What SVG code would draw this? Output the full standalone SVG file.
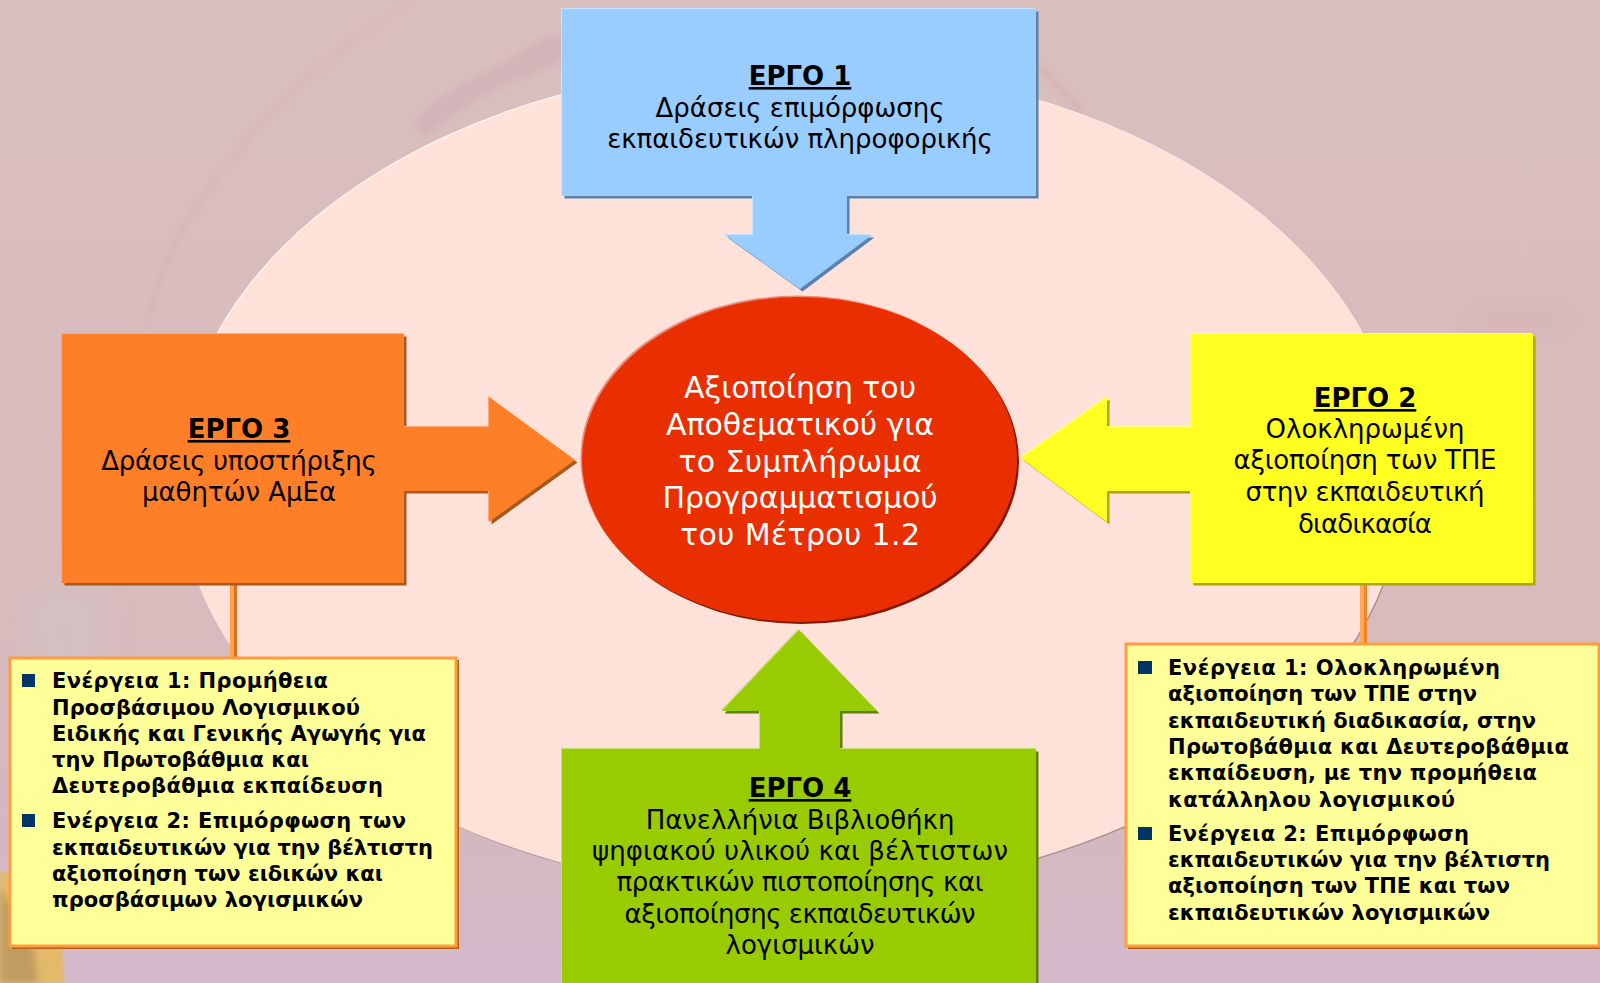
<svg xmlns="http://www.w3.org/2000/svg" width="1600" height="983" viewBox="0 0 1600 983">
<style>
text{font-family:"DejaVu Sans","Noto Sans",sans-serif;fill:#000}
.b{font-size:26px;text-anchor:middle}
.h{font-size:26px;font-weight:700;text-anchor:middle;text-decoration:underline}
.c{font-size:30px;text-anchor:middle;fill:#fff}
.s{font-size:21px;font-weight:700}
.bullet{fill:#003366}
.callout{fill:#ffff99;stroke:#ff9c40;stroke-width:3}
.callshadow{fill:#b0621c}
</style>
<defs>
<linearGradient id="bg" x1="0" y1="0" x2="0" y2="1"><stop offset="0" stop-color="#dabfbf"/><stop offset="0.6" stop-color="#d8bbbc"/><stop offset="0.85" stop-color="#d4b8c0"/><stop offset="1" stop-color="#d5b8cb"/></linearGradient>
<filter id="blur" x="-50%" y="-50%" width="200%" height="200%"><feGaussianBlur stdDeviation="14"/></filter>
<filter id="blur2" x="-30%" y="-30%" width="160%" height="160%"><feGaussianBlur stdDeviation="3"/></filter>
<filter id="blur3" x="-30%" y="-30%" width="160%" height="160%"><feGaussianBlur stdDeviation="1.500"/></filter>
<path id="sBlue" d="M562 9H1036V196H847V235H872L800 289L725 235H753V196H562Z"/>
<path id="sOrange" d="M62 334H404V427H489V397L575 460L489 522V491H404V583H62Z"/>
<path id="sYellow" d="M1191 334H1533V583H1191V491H1107V522L1021 458L1107 397V427H1191Z"/>
<path id="sGreen" d="M562 749H760V711H722L799 630L877 711H840V749H1036V990H562Z"/>
</defs>
<g id="background">
<rect width="1600" height="983" fill="url(#bg)"/>
<rect x="30" y="590" width="70" height="240" fill="#d0c4c8" filter="url(#blur)" opacity="0.5"/>
<path d="M413 0C330 50 240 130 180 233C165 265 150 300 145 340" fill="none" stroke="#d3adb2" stroke-width="6" filter="url(#blur2)" opacity="0.4"/>
<path d="M415 125C425 100 455 90 480 75C510 60 535 40 562 33L562 62C520 80 460 100 425 140Z" fill="#cba8b0" filter="url(#blur2)" opacity="0.45"/>
<path d="M1038 65L1082 112" stroke="#d2a9a9" stroke-width="7" fill="none" filter="url(#blur2)" opacity="0.45"/>
<ellipse cx="1520" cy="320" rx="70" ry="18" fill="#d5a9b0" filter="url(#blur)" opacity="0.35"/>
<path d="M0 870L14 878L62 945L64 983H0Z" fill="#e2ba68" filter="url(#blur3)"/>
<path d="M0 888L10 905L34 950L38 983H0Z" fill="#c19c60" filter="url(#blur2)"/>
<ellipse cx="792" cy="480" rx="612" ry="414" fill="#a08c8c"/>
<ellipse cx="790" cy="478" rx="612" ry="414" fill="#fff4ee"/>
<ellipse cx="791" cy="479" rx="612" ry="414" fill="#fee1d9"/>
</g>
<g id="connectors">
<rect x="230" y="584" width="4" height="74" fill="#ffa24c"/>
<rect x="234" y="584" width="3" height="74" fill="#d8701e"/>
<rect x="1360" y="584" width="4" height="60" fill="#ffa858"/>
<rect x="1364" y="584" width="3" height="60" fill="#f08426"/>
</g>
<g id="node-center">
<ellipse cx="801.500" cy="461.500" rx="217.500" ry="162.500" fill="#7e1a00"/>
<ellipse cx="798" cy="458" rx="217.500" ry="162.500" fill="#ee8c78"/>
<ellipse cx="799.500" cy="459.500" rx="217.500" ry="162.500" fill="#e92e00"/>
<text class="c" x="800" y="398" textLength="232">Αξιοποίηση του</text>
<text class="c" x="800" y="435" textLength="268">Αποθεματικού για</text>
<text class="c" x="800" y="472" textLength="243">το Συμπλήρωμα</text>
<text class="c" x="800" y="508" textLength="275">Προγραμματισμού</text>
<text class="c" x="800" y="545" textLength="240">του Μέτρου 1.2</text>
</g>
<g id="node-ergo1">
<use href="#sBlue" x="2.500" y="2.500" fill="#5a82ac"/><use href="#sBlue" x="-1" y="-1" fill="#c4e2ff"/><use href="#sBlue" fill="#99ccff"/>
<text class="h" x="800" y="85">ΕΡΓΟ 1</text>
<text class="b" x="800" y="117">Δράσεις επιμόρφωσης</text>
<text class="b" x="800" y="148">εκπαιδευτικών πληροφορικής</text>
</g>
<g id="node-ergo3">
<use href="#sOrange" x="2.500" y="2.500" fill="#a35a1e"/><use href="#sOrange" x="-1" y="-1" fill="#ffaa70"/><use href="#sOrange" fill="#ff7f29"/>
<text class="h" x="239" y="438">ΕΡΓΟ 3</text>
<text class="b" x="239" y="470" textLength="275.500">Δράσεις υποστήριξης</text>
<text class="b" x="239" y="501">μαθητών ΑμΕα</text>
</g>
<g id="node-ergo2">
<use href="#sYellow" x="2.500" y="2.500" fill="#a8a800"/><use href="#sYellow" x="-1" y="-1" fill="#ffff90"/><use href="#sYellow" fill="#ffff22"/>
<text class="h" x="1365" y="407">ΕΡΓΟ 2</text>
<text class="b" x="1365" y="438">Ολοκληρωμένη</text>
<text class="b" x="1365" y="469" textLength="263">αξιοποίηση των ΤΠΕ</text>
<text class="b" x="1365" y="501" textLength="239">στην εκπαιδευτική</text>
<text class="b" x="1365" y="533" textLength="134">διαδικασία</text>
</g>
<g id="node-ergo4">
<use href="#sGreen" x="2.500" y="2.500" fill="#5f8000"/><use href="#sGreen" x="-1" y="-1" fill="#c4e070"/><use href="#sGreen" fill="#99cc00"/>
<text class="h" x="800" y="797">ΕΡΓΟ 4</text>
<text class="b" x="800" y="829">Πανελλήνια Βιβλιοθήκη</text>
<text class="b" x="800" y="860" textLength="416">ψηφιακού υλικού και βέλτιστων</text>
<text class="b" x="800" y="891" textLength="367">πρακτικών πιστοποίησης και</text>
<text class="b" x="800" y="923" textLength="351">αξιοποίησης εκπαιδευτικών</text>
<text class="b" x="800" y="954">λογισμικών</text>
</g>
<g id="node-callout-left">
<rect class="callshadow" x="12" y="660" width="447" height="289"/>
<rect class="callout" x="10" y="658" width="446" height="288"/>
<rect class="bullet" x="22" y="674" width="13" height="13"/>
<rect class="bullet" x="22" y="814" width="13" height="13"/>
<text class="s" x="52" y="688" textLength="276">Ενέργεια 1: Προμήθεια</text>
<text class="s" x="52" y="715" textLength="308">Προσβάσιμου Λογισμικού</text>
<text class="s" x="52" y="741" textLength="374">Ειδικής και Γενικής Αγωγής για</text>
<text class="s" x="52" y="767" textLength="257">την Πρωτοβάθμια και</text>
<text class="s" x="52" y="793" textLength="331">Δευτεροβάθμια εκπαίδευση</text>
<text class="s" x="52" y="828" textLength="354">Ενέργεια 2: Επιμόρφωση των</text>
<text class="s" x="52" y="855" textLength="381">εκπαιδευτικών για την βέλτιστη</text>
<text class="s" x="52" y="881" textLength="331">αξιοποίηση των ειδικών και</text>
<text class="s" x="52" y="907" textLength="311">προσβάσιμων λογισμικών</text>
</g>
<g id="node-callout-right">
<rect class="callshadow" x="1128" y="646" width="474" height="303"/>
<rect class="callout" x="1126" y="644" width="473" height="302"/>
<rect class="bullet" x="1138" y="661" width="14" height="13"/>
<rect class="bullet" x="1138" y="827" width="14" height="13"/>
<text class="s" x="1168" y="675" textLength="332">Ενέργεια 1: Ολοκληρωμένη</text>
<text class="s" x="1168" y="701" textLength="309">αξιοποίηση των ΤΠΕ στην</text>
<text class="s" x="1168" y="728" textLength="368">εκπαιδευτική διαδικασία, στην</text>
<text class="s" x="1168" y="754" textLength="401">Πρωτοβάθμια και Δευτεροβάθμια</text>
<text class="s" x="1168" y="780" textLength="369">εκπαίδευση, με την προμήθεια</text>
<text class="s" x="1168" y="807" textLength="287">κατάλληλου λογισμικού</text>
<text class="s" x="1168" y="841" textLength="301">Ενέργεια 2: Επιμόρφωση</text>
<text class="s" x="1168" y="867" textLength="382">εκπαιδευτικών για την βέλτιστη</text>
<text class="s" x="1168" y="893" textLength="342">αξιοποίηση των ΤΠΕ και των</text>
<text class="s" x="1168" y="920" textLength="322">εκπαιδευτικών λογισμικών</text>
</g>
</svg>
